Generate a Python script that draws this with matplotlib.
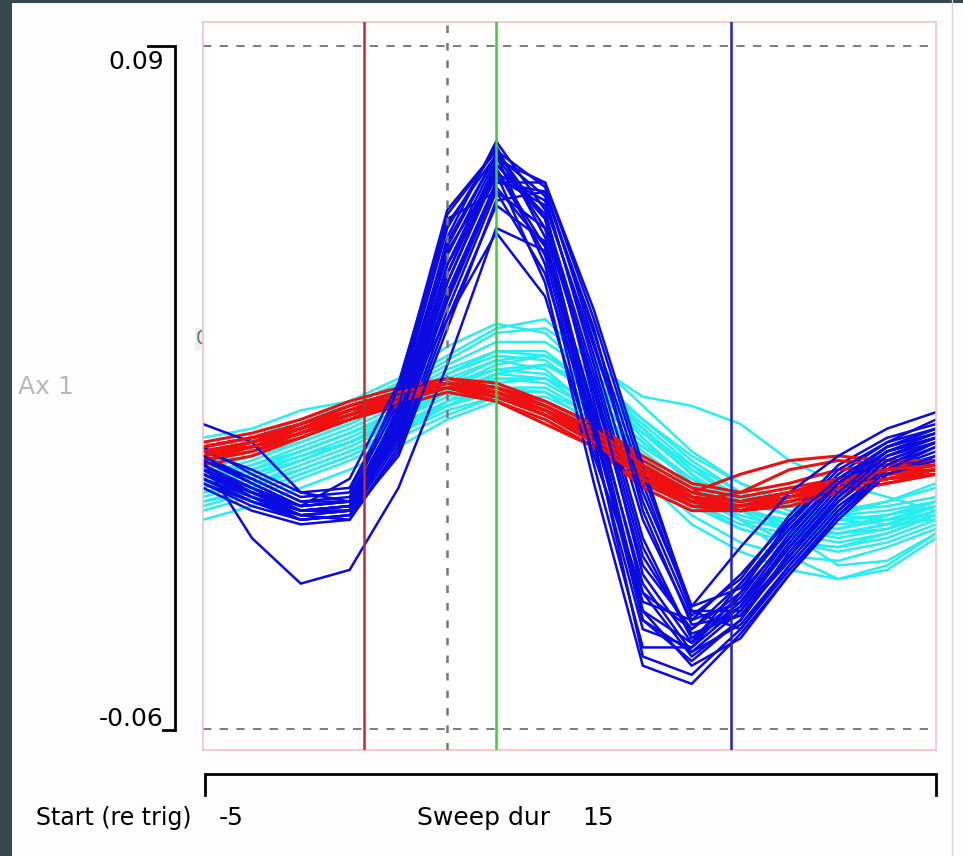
import numpy as np
import matplotlib
matplotlib.use("Agg")
import matplotlib.pyplot as plt

# sweep times (ms re trigger) and waveform samples (units of 1e-3)
t = np.arange(-5, 11)

blue = [
    [-2, -7, -12, -11, 8, 42, 64, 52, 14, -24, -38, -30, -18, -6, 1, 4],
    [-4, -9, -13, -12, 5, 38, 62, 56, 22, -14, -36, -32, -20, -8, 0, 3],
    [-6, -11, -14, -13, 3, 35, 60, 58, 27, -6, -34, -34, -22, -10, -2, 2],
    [0, -5, -10, -9, 12, 50, 68, 48, 6, -34, -41, -28, -15, -4, 3, 6],
    [-1, -6, -11, -10, 10, 46, 66, 57, 20, -18, -40, -31, -17, -5, 2, 5],
    [-3, -8, -12, -12, 6, 40, 63, 44, 2, -38, -42, -33, -19, -7, 1, 4],
    [-5, -10, -13, -14, 2, 32, 58, 50, 16, -22, -39, -35, -23, -11, -3, 1],
    [2, -4, -9, -8, 14, 53, 67, 59, 25, -10, -35, -27, -13, -2, 4, 7],
    [-7, -12, -15, -14, 1, 30, 55, 47, 10, -28, -43, -37, -24, -12, -3, 0],
    [-2, -7, -11, -10, 9, 44, 65, 60, 30, -4, -33, -29, -16, -5, 2, 5],
    [-4, -8, -12, -11, 7, 48, 69, 54, 12, -30, -44, -36, -21, -9, -1, 3],
    [1, -3, -8, -7, 13, 51, 66, 42, -2, -42, -42, -30, -14, -3, 3, 8],
    [-6, -10, -13, -12, 4, 36, 60, 60, 32, -2, -34, -38, -25, -13, -4, -1],
    [-3, -9, -14, -13, 5, 40, 64, 53, 18, -20, -40, -33, -20, -8, 0, 4],
    [-1, -18, -28, -25, -7, 20, 50, 45, 10, -34, -46, -40, -26, -14, -4, 0],
    [7, 3, -8, -10, 5, 38, 63, 46, 4, -44, -48, -38, -24, -12, -2, 3],
    [-3, -8, -12, -11, 8, 45, 62, 38, -6, -46, -50, -39, -26, -13, -3, 2],
    [-5, -9, -12, -11, 6, 42, 61, 55, 24, -8, -33, -20, -8, 0, 6, 9.6],
    [-4, -8, -11, -10, 10, 30, 49, 35, 0, -30, -38, -28, -16, -6, 1, 4],
    [0, -6, -11, -5, 16, 52, 58, 40, 5, -32, -36, -26, -14, -5, 2, 6],
    [-3, -7, -12, -12, 11, 47, 66, 50, 8, -36, -43, -34, -20, -8, 1, 5],
    [-5, -10, -14, -13, 0, 28, 56, 58, 28, -12, -37, -35, -22, -10, -1, 3],
    [-1, -5, -10, -10, 15, 54, 67, 52, 16, -26, -41, -32, -18, -6, 2, 6],
    [-2, -8, -13, -12, 4, 34, 59, 46, 6, -36, -45, -36, -22, -9, 0, 4],
]

cyan = [
    [-5, -2, 2, 6, 11, 16, 19, 18, 11, 1, -7, -12, -14, -15, -14, -11],
    [-8, -5, -1, 3, 8, 13, 17, 17, 12, 3, -5, -11, -15, -17, -16, -13],
    [-3, 0, 4, 8, 13, 19, 23, 22, 15, 5, -4, -11, -16, -18, -16, -12],
    [-10, -7, -3, 1, 6, 11, 15, 15, 9, 0, -11, -16, -19, -20, -18, -14],
    [-6, -3, 1, 5, 10, 15, 19, 20, 14, 5, -2, -8, -11, -12, -11, -9],
    [-2, 1, 5, 9, 14, 20, 25, 25, 18, 8, -1, -8, -12, -13, -12, -10],
    [-12, -9, -5, -1, 4, 9, 13, 13, 8, -4, -13, -19, -22, -23, -20, -16],
    [-4, -1, 3, 7, 12, 17, 21, 19, 10, -1, -10, -16, -19, -20, -17, -13],
    [-7, -4, 0, 4, 9, 14, 18, 20, 16, 8, 0, -6, -10, -13, -14, -13],
    [-9, -6, -2, 2, 7, 12, 15, 14, 7, -2, -10, -15, -17, -17, -15, -11],
    [0, 3, 7, 10, 15, 21, 27, 28, 21, 11, 1, -6, -11, -14, -15, -14],
    [-14, -11, -7, -3, 2, 8, 12, 12, 7, -5, -15, -21, -25, -27, -24, -17],
    [-5, -3, 0, 3, 7, 11, 14, 14, 9, 2, -5, -10, -13, -14, -13, -11],
    [-3, 0, 3, 7, 12, 18, 23, 23, 15, 4, -6, -14, -19, -21, -19, -15],
    [-8, -6, -3, 1, 5, 10, 13, 12, 6, -2, -9, -14, -16, -16, -13, -10],
    [2, 4, 8, 11, 16, 22, 28, 30, 20, 13, 11, 7, -1, -6, -9, -12],
    [-11, -8, -4, 0, 5, 12, 18, 20, 15, 6, -4, -14, -22, -27, -25, -18],
    [4, 6, 10, 12, 17, 24, 29, 27, 17, 6, -3, -10, -13, -13, -10, -6],
    [-6, -4, -1, 3, 9, 15, 20, 22, 16, 7, -2, -10, -17, -24, -23, -17],
    [-4, -2, 1, 5, 9, 14, 17, 16, 10, 2, -5, -9, -11, -12, -10, -7],
    [-7, -5, -1, 3, 8, 14, 18, 17, 10, 0, -8, -13, -16, -17, -15, -12],
    [-1, 1, 4, 8, 12, 18, 22, 21, 13, 3, -6, -12, -15, -16, -14, -11],
    [-10, -8, -4, 0, 5, 11, 16, 17, 12, 3, -6, -12, -17, -19, -17, -13],
    [-5, -3, 1, 5, 10, 16, 21, 22, 16, 6, -3, -9, -13, -14, -13, -10],
]

red = [
    [1, 3, 6, 10, 13, 16, 14, 10, 5, -3, -9, -11, -9, -6, -4, -3],
    [0, 2, 5, 9, 12, 15, 13, 9, 4, -4, -10, -12, -10, -7, -5, -3],
    [2, 4, 7, 11, 14, 17, 15, 11, 6, -2, -8, -10, -8, -5, -3, -2],
    [-1, 1, 4, 8, 12, 15, 12, 8, 2, -6, -11, -12, -10, -8, -6, -4],
    [1, 3, 6, 10, 14, 16, 15, 12, 7, -1, -7, -9, -7, -5, -3, -1],
    [-2, 0, 4, 8, 11, 14, 12, 7, 2, -7, -12, -12, -9, -7, -5, -4],
    [3, 5, 8, 12, 15, 17, 16, 12, 7, 0, -6, -8, -6, -3, -2, -1],
    [0, 2, 5, 9, 13, 16, 14, 10, 4, -5, -11, -11, -8, -6, -4, -3],
    [1, 3, 7, 11, 14, 16, 14, 9, 3, -5, -10, -8, -3, -1, -2, -2],
    [2, 4, 7, 10, 13, 16, 14, 11, 6, -3, -8, -4, -1, 0, -1, -1],
    [-1, 1, 5, 9, 12, 15, 13, 9, 4, -4, -10, -11, -9, -6, -4, -3],
    [0, 3, 6, 10, 13, 16, 15, 11, 5, -2, -8, -10, -8, -6, -4, -2],
    [1, 2, 5, 8, 12, 15, 14, 10, 5, -3, -9, -12, -11, -8, -6, -4],
    [2, 4, 6, 9, 13, 16, 13, 9, 3, -5, -10, -11, -9, -7, -5, -3],
    [0, 2, 6, 10, 13, 16, 14, 10, 4, -4, -9, -11, -9, -7, -5, -3],
    [1, 3, 6, 9, 13, 15, 14, 10, 5, -3, -10, -12, -10, -7, -5, -4],
    [-1, 2, 5, 9, 12, 15, 13, 9, 3, -5, -11, -12, -9, -6, -3, -2],
    [2, 4, 7, 11, 14, 16, 15, 11, 6, -2, -9, -10, -8, -5, -3, -2],
]

cursor_times = [-1.71, 0.0, 1.0, 5.8]
y_top, y_bot = 0.09, -0.06
start, sweep = -5, 15

W, H = 963, 856
fig = plt.figure(figsize=(W / 100, H / 100), dpi=100)
fig.patch.set_facecolor("#fdfdfd")

# overlay in pixel coords for the window frame, brackets and labels
ov = fig.add_axes([0, 0, 1, 1], zorder=0)
ov.set_xlim(0, W)
ov.set_ylim(H, 0)
ov.axis("off")
ov.add_patch(plt.Rectangle((0, 0), 12, H, color="#36474f", lw=0))
ov.add_patch(plt.Rectangle((0, 0), W, 2.5, color="#36474f", lw=0))
ov.plot([952, 952], [0, H], color="#d8d8d8", lw=1)

font = "DejaVu Sans"
fs = 18
ov.plot([148, 175, 175, 163], [46, 46, 730, 730], color="black", lw=2,
        solid_joinstyle="miter")
ov.plot([205, 205, 936, 936], [795, 774, 774, 795], color="black", lw=2,
        solid_joinstyle="miter")
ov.text(164, 62, "0.09", ha="right", va="center", fontsize=fs, family=font)
ov.text(164, 719, "-0.06", ha="right", va="center", fontsize=fs, family=font)
ov.text(18, 387, "Ax 1", ha="left", va="center", fontsize=fs, family=font,
        color="#b8b8b8")
ov.text(196, 339, "0", ha="left", va="center", fontsize=14, family=font,
        color="#707070",
        bbox=dict(facecolor="#eeeeee", edgecolor="none", pad=1))
ov.text(36, 818, "Start (re trig)", ha="left", va="center", fontsize=17,
        family=font)
ov.text(219, 818, str(start), ha="left", va="center", fontsize=fs, family=font)
ov.text(417, 818, "Sweep dur", ha="left", va="center", fontsize=fs, family=font)
ov.text(582, 818, str(sweep), ha="left", va="center", fontsize=fs, family=font)

# waveform panel
ax = fig.add_axes([203 / W, 1 - 750 / H, 733 / W, 728 / H], zorder=1)
ax.set_facecolor("white")
ax.set_xlim(start, start + sweep)
ax.set_ylim(-0.0645, 0.0952)
ax.set_xticks([])
ax.set_yticks([])
for s in ax.spines.values():
    s.set_color("#f2c4c4")
    s.set_linewidth(1.2)

for yl in (y_top, y_bot):
    ax.axhline(yl, color="#666666", lw=1.2, ls=(0, (5, 5)), zorder=1)

for tr in cyan:
    ax.plot(t, np.array(tr) / 1000, color="#2aeeee", lw=1.8, zorder=2)
n = max(len(blue), len(red))
for i in range(n):
    if i < len(blue):
        ax.plot(t, np.array(blue[i]) / 1000, color="#0b0be0", lw=1.8, zorder=2)
    if i < len(red):
        ax.plot(t, np.array(red[i]) / 1000, color="#ee1010", lw=2.2, zorder=2)

cur_colors = ["#c42a2a", "#777777", "#3ccf3c", "#2222b0"]
cur_styles = ["-", (0, (3, 4)), "-", "-"]
for xc, c, ls in zip(cursor_times, cur_colors, cur_styles):
    ax.axvline(xc, color=c, lw=1.8, ls=ls, zorder=3)

fig.savefig("out.png", dpi=100, facecolor=fig.get_facecolor())
